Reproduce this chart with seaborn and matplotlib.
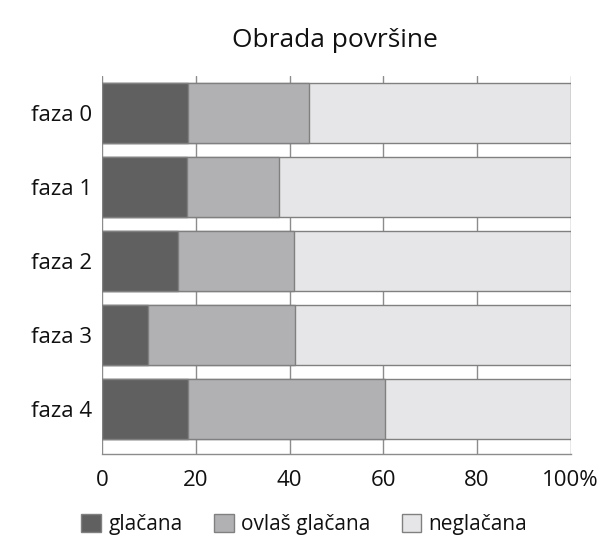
import matplotlib
matplotlib.use("Agg")
import matplotlib.pyplot as plt
from matplotlib.patches import Patch
import numpy as np
import pandas as pd
import seaborn as sns

phases = ["faza 0", "faza 1", "faza 2", "faza 3", "faza 4"]
glacana = [18.3, 18.2, 16.2, 9.8, 18.3]
ovlas_glacana = [25.9, 19.6, 24.8, 31.3, 42.0]
neglacana = [55.8, 62.2, 59.0, 58.9, 39.7]
series_names = ["glačana", "ovlaš glačana", "neglačana"]
colors = ["#606060", "#b1b1b3", "#e6e6e8"]
x_ticks = [0, 20, 40, 60, 80, 100]
x_labels = ["0", "20", "40", "60", "80", "100%"]

sns.set_theme(style="white")
plt.rcParams["font.family"] = ["Open Sans", "DejaVu Sans"]
plt.rcParams["text.color"] = "#111111"
plt.rcParams["xtick.color"] = "#111111"
plt.rcParams["ytick.color"] = "#111111"


def main():
    df = pd.DataFrame({"faza": phases, "g": glacana, "o": ovlas_glacana, "n": neglacana})
    df["c1"] = df["g"]
    df["c2"] = df["g"] + df["o"]
    df["c3"] = df["c2"] + df["n"]

    fig = plt.figure(figsize=(6.15, 5.38), dpi=100)
    ax = fig.add_axes([0.166, 0.157, 0.762, 0.702])

    # stacked bars drawn back to front from cumulative totals
    for col, color in zip(["c3", "c2", "c1"], colors[::-1]):
        sns.barplot(data=df, x=col, y="faza", orient="h", color=color,
                    width=0.8, edgecolor="#808080", linewidth=1.0,
                    saturation=1, ax=ax, zorder=3)

    ax.set_xlim(0, 100)
    ax.set_ylim(4.6, -0.5)
    ax.set_xticks(x_ticks)
    ax.set_xticklabels(x_labels, fontsize=16)
    ax.tick_params(axis="y", labelsize=16, length=0, pad=7)
    ax.tick_params(axis="x", length=0, pad=12)
    ax.set_xlabel("")
    ax.set_ylabel("")
    ax.xaxis.grid(True, color="#8c8c8c", linewidth=1.0, zorder=0)
    ax.set_axisbelow(True)
    for side in ["top", "right", "left"]:
        ax.spines[side].set_visible(False)
    ax.spines["bottom"].set_color("#8c8c8c")
    ax.spines["bottom"].set_linewidth(1.0)

    fig.text(0.545, 0.924, "Obrada površine", fontsize=19, ha="center", va="center")

    handles = [Patch(facecolor=c, edgecolor="#808080", linewidth=1.0) for c in colors]
    fig.legend(handles, series_names, loc="center", ncol=3,
               bbox_to_anchor=(0.495, 0.025), frameon=False, fontsize=15,
               handlelength=0.95, handleheight=0.95, handletextpad=0.35,
               columnspacing=1.5, borderaxespad=0)

    fig.savefig("out.png", dpi=100)
    plt.close(fig)


if __name__ == "__main__":
    main()
